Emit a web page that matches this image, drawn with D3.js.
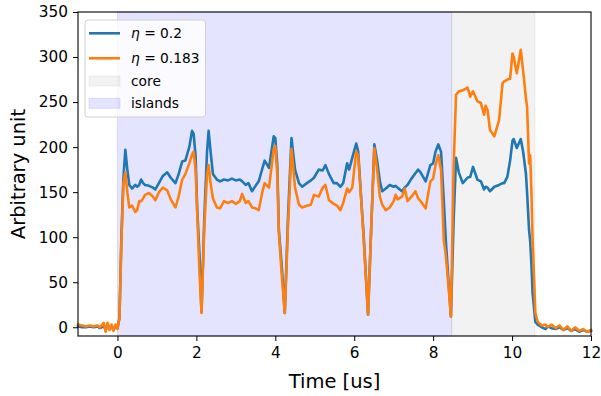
<!DOCTYPE html>
<html>
<head>
<meta charset="utf-8">
<script src="https://cdn.jsdelivr.net/npm/d3@7"></script>
<style>
  body { margin: 0; background: #fff; }
  svg text { font-family: "DejaVu Sans", sans-serif; }
</style>
</head>
<body>
<div id="chart"></div>
<script>
// time samples [us]
var time = [-1.0,-0.9,-0.8,-0.7,-0.6,-0.5,-0.45,-0.4,-0.35,-0.3,-0.25,-0.2,-0.15,-0.1,-0.05,0.0,
  0.05,0.1,0.15,0.2,0.25,0.3,0.37,0.45,0.5,0.55,0.6,0.65,0.7,0.8,0.9,0.96,1.05,1.15,1.26,1.35,1.47,
  1.55,1.64,1.72,1.82,1.89,1.93,1.98,2.02,2.08,2.13,2.2,2.27,2.31,2.36,2.42,2.52,2.6,2.7,2.8,2.9,
  3.0,3.1,3.16,3.25,3.32,3.41,3.5,3.58,3.67,3.73,3.84,3.96,4.0,4.05,4.09,4.16,4.24,4.32,4.41,4.5,
  4.6,4.68,4.8,4.9,4.98,5.1,5.2,5.27,5.36,5.48,5.56,5.65,5.72,5.82,5.87,5.95,6.05,6.1,6.18,6.24,
  6.35,6.43,6.51,6.58,6.65,6.71,6.8,6.9,7.0,7.05,7.1,7.21,7.28,7.35,7.45,7.55,7.62,7.68,7.81,7.93,
  8.0,8.06,8.13,8.2,8.27,8.32,8.39,8.45,8.52,8.58,8.65,8.75,8.87,8.94,9.01,9.12,9.21,9.29,9.33,
  9.38,9.44,9.55,9.67,9.76,9.8,9.88,9.95,10.01,10.04,10.12,10.22,10.28,10.35,10.38,10.43,10.46,
  10.49,10.52,10.59,10.65,10.75,10.85,10.9,11.0,11.1,11.2,11.3,11.4,11.5,11.6,11.7,11.8,11.9,12.0];

// eta = 0.2
var eta02 = [1,0,0,1,0,1,-1,0,2,-3,3,-2,1,-3,1,-1,
  10,100,165,197,175,158,154,158,156,158,164,160,158,157,155,153,160,168,172,166,160,
  170,184,185,200,218,215,190,132,80,17,120,195,218,195,170,164,162,164,163,165,
  163,164,162,158,160,151,157,162,176,185,177,212,210,180,108,70,16,120,210,175,
  160,156,160,163,166,175,174,180,170,160,160,156,160,182,175,188,204,195,140,101,
  14,110,203,185,162,151,154,158,156,157,155,151,155,158,165,171,175,172,162,180,
  182,195,203,195,140,97,50,12,120,188,172,160,166,167,178,164,162,153,156,
  155,151,156,158,160,160,167,185,207,209,199,209,195,171,150,108,95,
  70,38,6,3,0,-2,1,-1,-2,0,-3,-1,-4,-2,-5,-3,-5,-4];

// eta = 0.183
var eta0183 = [3,2,1,2,1,2,0,2,5,-5,5,-3,3,-4,3,-2,
  10,95,160,172,150,133,135,128,130,140,140,143,147,149,145,141,150,155,152,142,133,
  145,164,170,182,192,195,175,128,60,16,110,170,180,160,143,133,132,140,138,140,
  137,140,148,138,140,133,132,130,150,160,155,198,201,170,105,60,16,110,198,155,
  136,133,135,136,147,145,155,158,141,137,135,130,138,154,150,155,195,190,140,97,
  14,110,199,175,145,136,130,133,140,147,142,145,154,140,145,151,143,140,132,162,
  165,180,191,175,97,80,45,12,180,258,262,263,266,256,262,251,249,236,246,
  241,219,212,230,271,273,275,276,304,300,282,308,285,255,245,182,191,
  150,97,16,6,2,3,0,3,-1,2,-3,1,-4,0,-4,-2,-5,-3];

var xTicks = [0, 2, 4, 6, 8, 10, 12];
var yTicks = [0, 50, 100, 150, 200, 250, 300, 350];

// shaded regions [start, end]
var islands = [0, 8.47];
var core = [8.47, 10.58];

var series = [
  {label: "0.2", values: eta02, color: "#1f77b4"},
  {label: "0.183", values: eta0183, color: "#ff7f0e"}
];

var W = 601, H = 396;
var margin = {top: 12, right: 10, bottom: 60, left: 78};
var width = W - margin.left - margin.right;
var height = H - margin.top - margin.bottom;

var svg = d3.select("#chart").append("svg")
    .attr("width", W)
    .attr("height", H);

var g = svg.append("g")
    .attr("transform", "translate(" + margin.left + "," + margin.top + ")");

var x = d3.scaleLinear().domain([-1, 12]).range([0, width]);
var y = d3.scaleLinear().domain([-9.7, 350]).range([height, 0]);

var islandFill = "rgba(0,0,255,0.105)";
var coreFill = "rgba(128,128,128,0.105)";

// spans
g.append("rect")
    .attr("x", x(islands[0])).attr("y", 0)
    .attr("width", x(islands[1]) - x(islands[0])).attr("height", height)
    .style("fill", islandFill).style("stroke", islandFill);
g.append("rect")
    .attr("x", x(core[0])).attr("y", 0)
    .attr("width", x(core[1]) - x(core[0])).attr("height", height)
    .style("fill", coreFill).style("stroke", coreFill);

var line = d3.line()
    .x(function(d, i){ return x(time[i]); })
    .y(function(d){ return y(d); });

series.forEach(function(s){
  g.append("path")
    .datum(s.values)
    .attr("d", line)
    .style("fill", "none")
    .style("stroke", s.color)
    .style("stroke-width", 2.6)
    .style("stroke-linejoin", "round")
    .style("stroke-linecap", "square");
});

// axes
var xAxis = g.append("g")
    .attr("transform", "translate(0," + height + ")")
    .call(d3.axisBottom(x).tickValues(xTicks).tickSize(5).tickPadding(6).tickSizeOuter(0));
var yAxis = g.append("g")
    .call(d3.axisLeft(y).tickValues(yTicks).tickSize(5).tickPadding(5).tickSizeOuter(0));

[xAxis, yAxis].forEach(function(a){
  a.select(".domain").remove();
  a.selectAll("text").style("font-size", "15.3px").style("fill", "#000")
    .style("font-family", "DejaVu Sans");
  a.selectAll("line").style("stroke", "#000");
});

// frame
g.append("rect")
    .attr("x", 0).attr("y", 0)
    .attr("width", width).attr("height", height)
    .style("fill", "none").style("stroke", "#000").style("stroke-width", 1.1);

// labels
svg.append("text")
    .attr("x", margin.left + width / 2).attr("y", 388)
    .attr("text-anchor", "middle")
    .style("font-size", "19.5px")
    .text("Time [us]");
svg.append("text")
    .attr("transform", "translate(25," + (margin.top + height / 2) + ") rotate(-90)")
    .attr("text-anchor", "middle")
    .style("font-size", "19.5px")
    .text("Arbitrary unit");

// legend
var leg = svg.append("g").attr("transform", "translate(85,20)");
leg.append("rect")
    .attr("width", 120.5).attr("height", 97)
    .attr("rx", 3)
    .style("fill", "rgba(255,255,255,0.8)")
    .style("stroke", "#d0d0d0");

var rowsY = [13.3, 38.3, 61, 83.3];
series.forEach(function(s, i){
  leg.append("line")
    .attr("x1", 4).attr("x2", 35)
    .attr("y1", rowsY[i]).attr("y2", rowsY[i])
    .style("stroke", s.color).style("stroke-width", 2.6);
  var t = leg.append("text")
    .attr("x", 46).attr("y", rowsY[i]).attr("dy", "0.35em")
    .style("font-size", "13.8px");
  t.append("tspan").style("font-style", "italic").text("η");
  t.append("tspan").text(" = " + s.label);
});
[["core", coreFill], ["islands", islandFill]].forEach(function(p, i){
  var yy = rowsY[i + 2];
  leg.append("rect")
    .attr("x", 4).attr("y", yy - 5)
    .attr("width", 31).attr("height", 10)
    .style("fill", p[1]).style("stroke", p[1]);
  leg.append("text")
    .attr("x", 46).attr("y", yy).attr("dy", "0.35em")
    .style("font-size", "13.8px")
    .text(p[0]);
});
</script>
</body>
</html>
